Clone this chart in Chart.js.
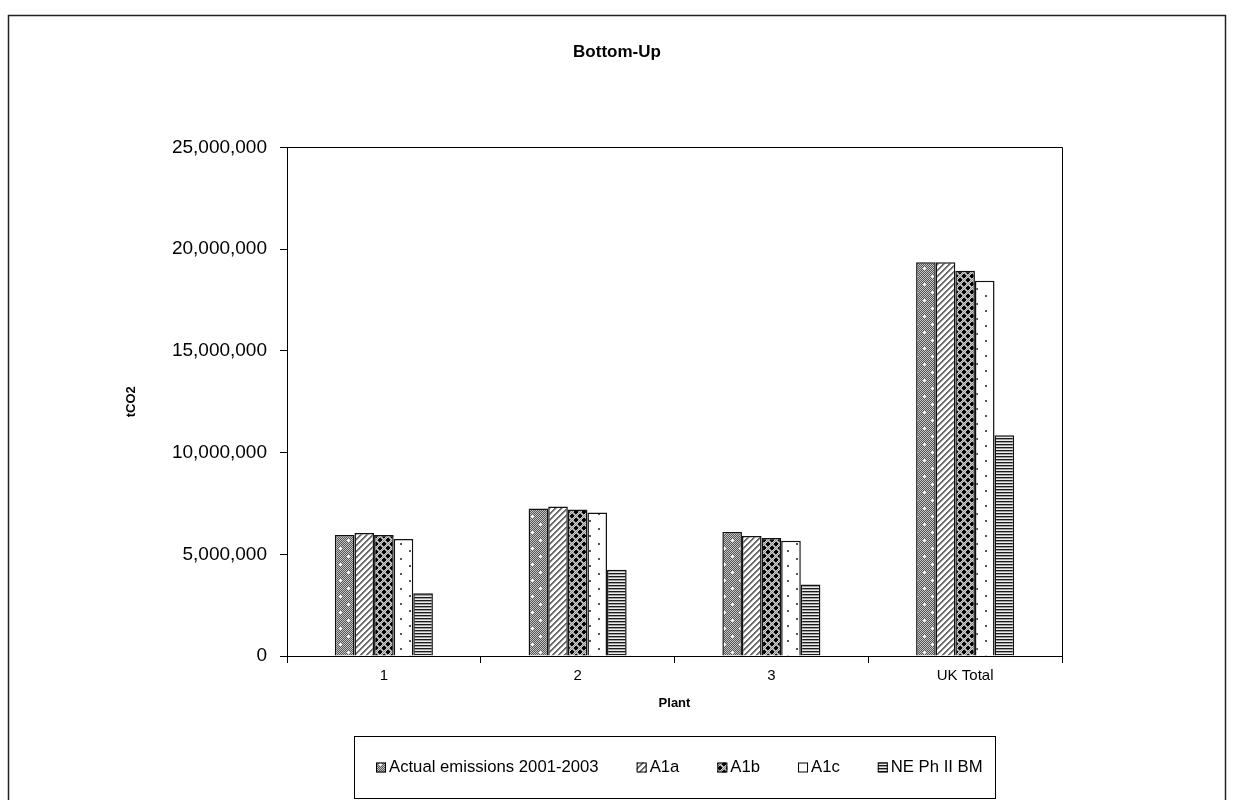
<!DOCTYPE html>
<html>
<head>
<meta charset="utf-8">
<title>Bottom-Up</title>
<script src="https://cdn.jsdelivr.net/npm/chart.js@4.4.1/dist/chart.umd.min.js"></script>
<style>
  html, body { margin: 0; padding: 0; background: #fff; }
  #wrap { width: 1234px; height: 800px; position: relative; }
</style>
</head>
<body>
<div id="wrap"><canvas id="chart" width="1234" height="800"></canvas></div>
<script>
// Plants and emission series (tCO2)
const categories = ['1', '2', '3', 'UK Total'];
const seriesNames = ['Actual emissions 2001-2003', 'A1a', 'A1b', 'A1c', 'NE Ph II BM'];
const actualEmissions = [5950000, 7250000, 6100000, 19350000];
const a1a = [6050000, 7350000, 5900000, 19350000];
const a1b = [5950000, 7200000, 5800000, 18940000];
const a1c = [5750000, 7050000, 5660000, 18450000];
const nePhIIBM = [3090000, 4240000, 3520000, 10850000];
const yTicks = [0, 5000000, 10000000, 15000000, 20000000, 25000000];

const FONT = "'Liberation Sans', Arial, sans-serif";

// Fill patterns for the monochrome bars
function makePattern(w, h, draw) {
  const c = document.createElement('canvas');
  c.width = w; c.height = h;
  const g = c.getContext('2d');
  draw(g, w, h);
  return document.createElement('canvas').getContext('2d').createPattern(c, 'repeat');
}
function px(g, x, y, col) { g.fillStyle = col; g.fillRect(x, y, 1, 1); }

const patActual = makePattern(16, 16, (g, w, h) => {
  for (let y = 0; y < h; y++) for (let x = 0; x < w; x++)
    px(g, x, y, (x + y) % 2 ? '#555555' : '#c4c4c4');
  g.fillStyle = '#ffffff';
  [[4, 4], [12, 12]].forEach(([cx, cy]) => {
    g.fillRect(cx - 1, cy, 3, 1);
    g.fillRect(cx, cy - 1, 1, 3);
  });
});
const patA1a = makePattern(6, 6, (g, w, h) => {
  for (let y = 0; y < h; y++) for (let x = 0; x < w; x++) {
    const k = (x + y) % 6;
    px(g, x, y, k < 2 ? '#6a6a6a' : (k === 2 ? '#b8b8b8' : '#ffffff'));
  }
});
const patA1b = makePattern(8, 8, (g, w, h) => {
  for (let y = 0; y < h; y++) for (let x = 0; x < w; x++)
    px(g, x, y, (x + y) % 2 ? '#8a8a8a' : '#d0d0d0');
  g.fillStyle = '#000000';
  [[0, 0], [4, 4], [8, 0], [0, 8], [8, 8]].forEach(([cx, cy]) => {
    g.fillRect(cx - 2, cy - 1, 4, 2);
    g.fillRect(cx - 1, cy - 2, 2, 4);
  });
});
const patA1c = makePattern(18, 15, (g, w, h) => {
  g.fillStyle = '#ffffff'; g.fillRect(0, 0, w, h);
  g.fillStyle = '#555555';
  g.fillRect(4, 3, 2, 2);
  g.fillRect(13, 10, 2, 2);
});
const patNE = makePattern(1, 3, (g) => {
  px(g, 0, 0, '#1a1a1a');
  px(g, 0, 1, '#a0a0a0');
  px(g, 0, 2, '#ececec');
});

const patterns = [patActual, patA1a, patA1b, patA1c, patNE];
const seriesValues = [actualEmissions, a1a, a1b, a1c, nePhIIBM];

const datasets = seriesNames.map((name, i) => ({
  label: name,
  data: seriesValues[i],
  backgroundColor: patterns[i],
  borderColor: '#111111',
  borderWidth: 1.5,
  borderSkipped: 'bottom',
  categoryPercentage: 0.506,
  barPercentage: 1.0
}));

// Page background, outer frame and plot frame
const framePlugin = {
  id: 'frames',
  beforeDraw(chart) {
    const ctx = chart.ctx;
    ctx.save();
    ctx.fillStyle = '#ffffff';
    ctx.fillRect(0, 0, chart.width, chart.height);
    ctx.strokeStyle = '#222222';
    ctx.lineWidth = 1.5;
    ctx.strokeRect(8.5, 15.5, 1217, 800);
    ctx.restore();
  },
  afterDatasetsDraw(chart) {
    const a = chart.chartArea;
    const ctx = chart.ctx;
    ctx.save();
    ctx.strokeStyle = '#000000';
    ctx.lineWidth = 1;
    ctx.beginPath();
    ctx.moveTo(Math.round(a.left) + 0.5, Math.round(a.top) + 0.5);
    ctx.lineTo(Math.round(a.right) + 0.5, Math.round(a.top) + 0.5);
    ctx.lineTo(Math.round(a.right) + 0.5, Math.round(a.bottom) + 0.5);
    ctx.stroke();
    ctx.restore();
  }
};

// Boxed legend below the plot
const boxedLegend = {
  id: 'boxedLegend',
  afterDraw(chart) {
    const ctx = chart.ctx;
    const box = { x: 354.5, y: 736.5, w: 641, h: 62 };
    ctx.save();
    ctx.strokeStyle = '#000000';
    ctx.lineWidth = 1;
    ctx.strokeRect(box.x, box.y, box.w, box.h);
    ctx.font = '16.7px ' + FONT;
    ctx.textBaseline = 'middle';
    const cy = box.y + box.h / 2;
    let x = 376;
    chart.data.datasets.forEach((ds) => {
      ctx.fillStyle = ds.backgroundColor;
      ctx.fillRect(x, cy - 5, 10, 10);
      ctx.strokeStyle = '#000000';
      ctx.lineWidth = 1;
      ctx.strokeRect(x + 0.5, cy - 4.5, 9, 9);
      ctx.fillStyle = '#000000';
      ctx.fillText(ds.label, x + 13, cy);
      x += 13 + ctx.measureText(ds.label).width + 38;
    });
    ctx.restore();
  }
};

new Chart(document.getElementById('chart'), {
  type: 'bar',
  data: { labels: categories, datasets },
  options: {
    responsive: false,
    animation: false,
    devicePixelRatio: 1,
    layout: { padding: { left: 0, top: 0, right: 0, bottom: 89 } },
    plugins: {
      legend: { display: false },
      tooltip: { enabled: false },
      title: {
        display: true,
        text: 'Bottom-Up',
        color: '#000000',
        font: { family: FONT, size: 17, weight: 'bold' },
        padding: { top: 42, bottom: 85 }
      }
    },
    scales: {
      x: {
        offset: true,
        grid: { display: true, offset: true, drawOnChartArea: false, tickLength: 7, color: '#000000', lineWidth: 1 },
        border: { display: true, color: '#000000', width: 1 },
        ticks: { color: '#000000', font: { family: FONT, size: 15 }, padding: 4 },
        title: {
          display: true, text: 'Plant', color: '#000000',
          font: { family: FONT, size: 13, weight: 'bold' },
          padding: { top: 0, bottom: 0 }
        },
        afterFit(scale) { scale.height = 55; }
      },
      y: {
        min: 0,
        max: 25000000,
        afterBuildTicks(scale) { scale.ticks = yTicks.map(v => ({ value: v })); },
        grid: { display: true, drawOnChartArea: false, tickLength: 7, color: '#000000', lineWidth: 1 },
        border: { display: true, color: '#000000', width: 1 },
        ticks: {
          color: '#000000',
          font: { family: FONT, size: 19 },
          padding: 13,
          callback: (v) => Number(v).toLocaleString('en-US')
        },
        title: {
          display: true, text: 'tCO2', color: '#000000',
          font: { family: FONT, size: 13, weight: 'bold' },
          padding: { top: 124, bottom: 0 }
        },
        afterFit(scale) { scale.width = 287; }
      },
      // empty right-hand margin beside the plot
      yRight: {
        position: 'right',
        display: true,
        min: 0,
        max: 25000000,
        grid: { display: false, drawOnChartArea: false },
        border: { display: false },
        ticks: { display: false },
        afterFit(scale) { scale.width = 172; }
      }
    }
  },
  plugins: [framePlugin, boxedLegend]
});
</script>
</body>
</html>
